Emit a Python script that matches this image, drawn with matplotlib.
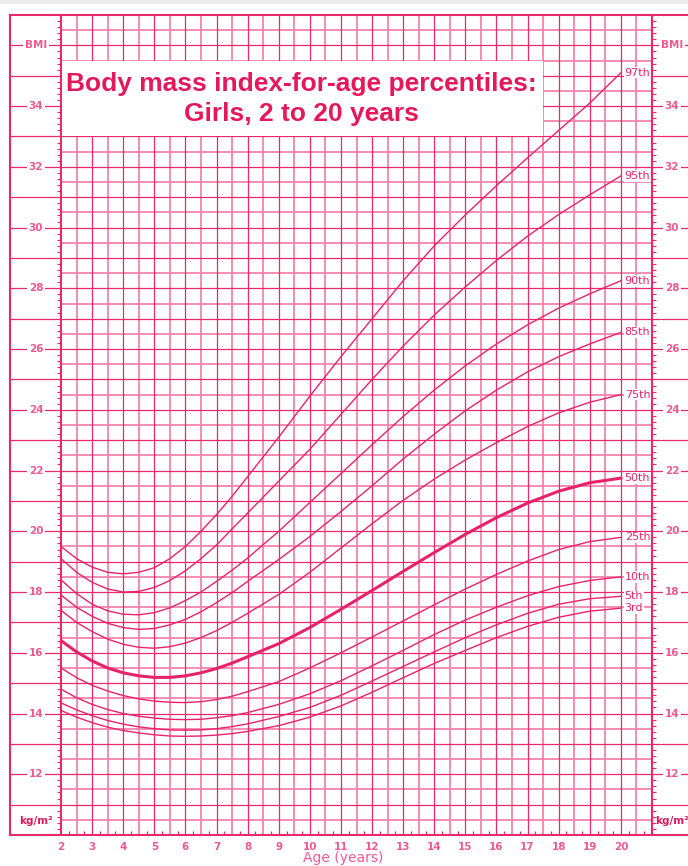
import matplotlib.pyplot as plt
from matplotlib.patches import Rectangle
import numpy as np

# BMI-for-age percentiles, girls 2-20 years
ages = [2, 2.5, 3, 3.5, 4, 4.5, 5, 5.5, 6, 6.5, 7, 7.5, 8,
        9, 10, 11, 12, 13, 14, 15, 16, 17, 18, 19, 20]
p3 = [14.1, 13.88, 13.7, 13.55, 13.44, 13.36, 13.3, 13.26, 13.25, 13.26, 13.29, 13.34, 13.41,
      13.6, 13.88, 14.25, 14.7, 15.18, 15.65, 16.08, 16.5, 16.87, 17.17, 17.37, 17.47]
p5 = [14.35, 14.12, 13.93, 13.77, 13.65, 13.56, 13.5, 13.46, 13.45, 13.46, 13.5, 13.57, 13.66,
      13.9, 14.2, 14.6, 15.07, 15.55, 16.03, 16.5, 16.92, 17.3, 17.6, 17.78, 17.86]
p10 = [14.8, 14.52, 14.3, 14.13, 14.0, 13.91, 13.85, 13.81, 13.8, 13.81, 13.86, 13.93, 14.03,
       14.3, 14.65, 15.08, 15.57, 16.08, 16.6, 17.08, 17.5, 17.88, 18.18, 18.38, 18.5]
p25 = [15.5, 15.18, 14.93, 14.74, 14.59, 14.48, 14.41, 14.37, 14.36, 14.39, 14.46, 14.57, 14.72,
       15.05, 15.5, 16.0, 16.52, 17.05, 17.58, 18.1, 18.58, 19.02, 19.4, 19.66, 19.8]
p50 = [16.4, 16.03, 15.73, 15.5, 15.34, 15.24, 15.19, 15.19, 15.24, 15.34, 15.48, 15.66, 15.87,
       16.3, 16.83, 17.43, 18.05, 18.68, 19.3, 19.9, 20.45, 20.93, 21.32, 21.6, 21.75]
p75 = [17.4, 17.0, 16.7, 16.45, 16.28, 16.18, 16.15, 16.2, 16.32, 16.5, 16.73, 17.0, 17.3,
       17.92, 18.65, 19.45, 20.25, 21.02, 21.72, 22.35, 22.92, 23.45, 23.9, 24.25, 24.5]
p85 = [17.9, 17.5, 17.2, 16.97, 16.83, 16.77, 16.8, 16.92, 17.1, 17.35, 17.65, 17.98, 18.35,
       19.07, 19.83, 20.65, 21.5, 22.38, 23.2, 23.97, 24.65, 25.25, 25.75, 26.17, 26.55]
p90 = [18.4, 17.95, 17.6, 17.38, 17.27, 17.25, 17.32, 17.48, 17.72, 18.0, 18.35, 18.72, 19.12,
       20.0, 20.95, 21.9, 22.85, 23.78, 24.65, 25.45, 26.17, 26.8, 27.35, 27.82, 28.25]
p95 = [19.1, 18.65, 18.32, 18.1, 18.0, 18.02, 18.15, 18.38, 18.7, 19.1, 19.55, 20.08, 20.6,
       21.65, 22.7, 23.85, 25.0, 26.1, 27.12, 28.05, 28.92, 29.72, 30.43, 31.08, 31.7]
p97 = [19.5, 19.1, 18.82, 18.65, 18.6, 18.65, 18.8, 19.1, 19.5, 20.0, 20.55, 21.15, 21.8,
       23.1, 24.45, 25.75, 27.0, 28.25, 29.4, 30.42, 31.38, 32.3, 33.2, 34.1, 35.1]

curves = [p3, p5, p10, p25, p50, p75, p85, p90, p95, p97]
pct_labels = ['3rd', '5th', '10th', '25th', '50th', '75th', '85th', '90th', '95th', '97th']
age_ticks = list(range(2, 21))
bmi_labels = [12, 14, 16, 18, 20, 22, 24, 26, 28, 30, 32, 34]

dark = '#E82A6B'
light = '#F483AB'
curve_col = '#E8226A'
text_col = '#EE5A90'
title_col = '#E5185C'

W, H = 688, 866
fig = plt.figure(figsize=(W / 100, H / 100), dpi=100)
fig.patch.set_facecolor('white')
fig.patches.append(Rectangle((0, 1 - 4 / H), 1, 4 / H, transform=fig.transFigure,
                             facecolor='#ECECEC', edgecolor='none'))

# plot area: x 61..652 px (age 2..21), y 15..835 px (BMI 37..10)
ax = fig.add_axes([61 / W, 31 / H, 591 / W, 820 / H])
ax.set_xlim(2, 21)
ax.set_ylim(10, 37)
pxx = 591 / 19.0   # px per year
left_edge = 2 - 51 / pxx
right_edge = 21 + 40 / pxx

# grid
half_x = np.arange(2.5, 21, 1.0)
full_x = np.arange(3, 21, 1.0)
half_y = np.arange(10.5, 37, 1.0)
full_y = np.arange(11, 37, 1.0)
ax.vlines(half_x, 10, 37, color=light, lw=1.3, zorder=1)
ax.hlines(half_y, 2, 21, color=light, lw=1.3, zorder=1)
ax.vlines(full_x, 10, 37, color=dark, lw=0.9, zorder=1.1)
ax.hlines(full_y, 2, 21, color=dark, lw=0.9, zorder=1.1)

# margins
for v in full_y:
    ax.plot([left_edge, 2], [v, v], color=dark, lw=0.9, clip_on=False)
    ax.plot([21, right_edge], [v, v], color=dark, lw=0.9, clip_on=False)
for v in [10, 37]:
    ax.plot([left_edge, right_edge], [v, v], color=dark, lw=1.5, clip_on=False)
ax.plot([left_edge, left_edge], [10, 37], color=dark, lw=1.5, clip_on=False)
for s in ['left', 'right']:
    ax.spines[s].set_color(dark)
    ax.spines[s].set_linewidth(1.5)
for s in ['top', 'bottom']:
    ax.spines[s].set_visible(False)

lab_l = 2 - 25 / pxx
lab_r = 21 + 20 / pxx
box = dict(facecolor='white', edgecolor='none', pad=1.2)
for b in bmi_labels:
    for xx in (lab_l, lab_r):
        ax.text(xx, b, str(b), color=text_col, fontsize=7.5, fontweight='bold',
                ha='center', va='center', bbox=box, clip_on=False, zorder=5)
for xx in (lab_l, lab_r):
    ax.text(xx, 36, 'BMI', color=text_col, fontsize=7.5, fontweight='bold',
            ha='center', va='center', bbox=box, clip_on=False, zorder=5)
    ax.text(xx, 10.45, 'kg/m²', color='#D81B5A', fontsize=7.5, fontweight='bold',
            ha='center', va='center', clip_on=False, zorder=5)

# ticks
ax.set_xticks(age_ticks)
ax.set_xticklabels([str(a) for a in age_ticks], color=text_col, fontsize=7.5, fontweight='bold')
ax.set_xticks(np.arange(2.25, 21, 0.5), minor=True)
ax.tick_params(axis='x', which='major', length=0, pad=5)
ax.tick_params(axis='x', which='minor', direction='in', length=3, width=0.9, color=dark)
yminor = [v for v in np.round(np.arange(10.2, 37, 0.2), 1) if abs(v - round(v)) > 0.01]
ax.set_yticks([])
ax.set_yticks(yminor, minor=True)
ax.tick_params(axis='y', which='minor', left=True, right=True, direction='out',
               length=3, width=0.8, color=dark)

# title box
ax.add_patch(Rectangle((2, 33), 15.5, 2.5, facecolor='white', edgecolor='none', zorder=2))
ax.text(9.73, 34.74, 'Body mass index-for-age percentiles:', color=title_col, fontsize=19,
        fontweight='bold', family='Liberation Sans', ha='center', va='center', zorder=3)
ax.text(9.73, 33.75, 'Girls, 2 to 20 years', color=title_col, fontsize=19,
        fontweight='bold', family='Liberation Sans', ha='center', va='center', zorder=3)

# percentile curves
for vals, lab in zip(curves, pct_labels):
    lw = 2.2 if lab == '50th' else 1.0
    ax.plot(ages, vals, color=curve_col, lw=lw, zorder=3, solid_joinstyle='round')
    ax.text(20.12, vals[-1], lab, color=curve_col, fontsize=8, ha='left', va='center',
            bbox=dict(facecolor='white', edgecolor='none', pad=0.6), zorder=4)

fig.text(343 / W, 1 / H, 'Age (years)', color=text_col, fontsize=10,
         ha='center', va='bottom')

fig.savefig('out.png', dpi=100)
